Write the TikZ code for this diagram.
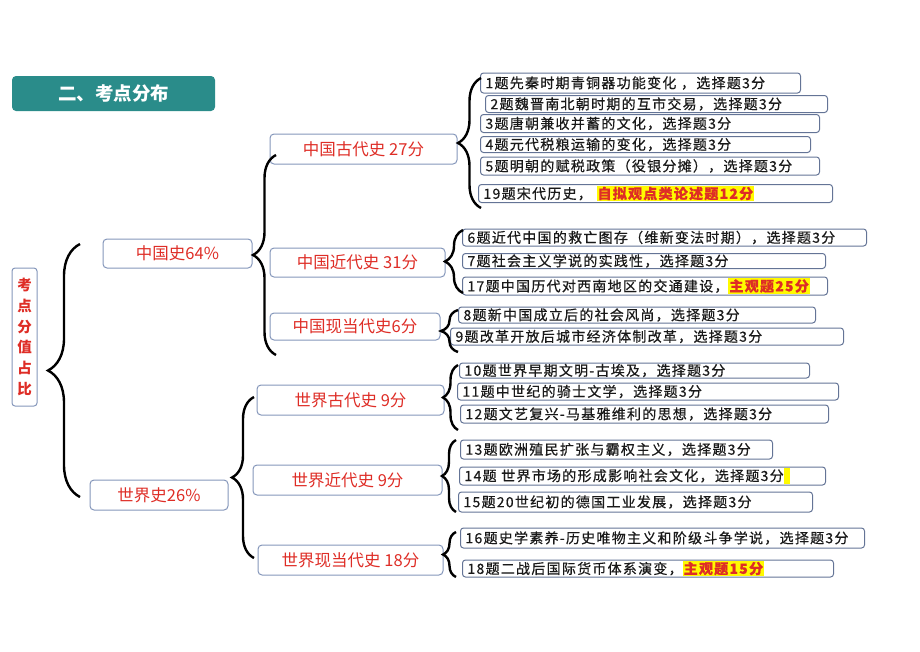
\documentclass[tikz,border=0pt]{standalone}
\usepackage{fontspec}
\usepackage{tikz}
\usepackage{xcolor}
\usetikzlibrary{decorations.pathreplacing}
\newfontfamily\cjk{Noto Sans CJK SC}
\newfontfamily\cjkq{Noto Sans CJK SC}[LetterSpace=9,FakeBold=0.6]
\definecolor{boxc}{RGB}{100,116,150}
\definecolor{catc}{RGB}{132,150,186}
\definecolor{titc}{RGB}{42,140,138}
\definecolor{redc}{RGB}{222,45,38}
\definecolor{hly}{RGB}{255,250,0}
\newcommand\hlt[1]{{\setlength\fboxsep{1pt}\colorbox{hly}{\textcolor{redc}{\bfseries #1}}}}

\begin{document}
\begin{tikzpicture}[x=1pt,y=-1pt,
	brc/.style={decorate,decoration={brace,amplitude=#1},line width=2.4pt},
	leaf/.style={draw=boxc,line width=1pt,rounded corners=3pt,anchor=west,align=left,inner xsep=5pt,inner ysep=0pt,font=\cjkq\fontsize{14}{15}\selectfont,text=black!90},
	cat/.style={draw=catc,line width=1pt,rounded corners=4pt,inner sep=0pt,font=\cjk\fontsize{16.5}{18}\selectfont,text=redc}]
	\useasboundingbox (0,0) rectangle (920,651);
	\node[fill=titc,rounded corners=4pt,minimum width=203,minimum height=35,text=white,font=\cjk\bfseries\fontsize{18.5}{20}\selectfont] (title) at (113.5,93.5) {二、考点分布};
	\node[cat,minimum width=25,minimum height=138,align=center,rounded corners=3pt,font=\cjk\bfseries\fontsize{14.5}{20.7}\selectfont] (lbl) at (24.5,337) {考\\点\\分\\值\\占\\比};

	\node[cat,minimum width=149,minimum height=29] (cn) at (177.5,253.5) {中国史64\%};
	\node[cat,minimum width=138,minimum height=30] (ws) at (159,495) {世界史26\%};

	\node[cat,minimum width=187,minimum height=30] (c1) at (363.5,149) {中国古代史 27分};
	\node[cat,minimum width=175,minimum height=29] (c2) at (357.5,262.5) {中国近代史 31分};
	\node[cat,minimum width=170,minimum height=27] (c3) at (355,326.5) {中国现当代史6分};
	\node[cat,minimum width=187,minimum height=30] (w1) at (350.5,400) {世界古代史 9分};
	\node[cat,minimum width=189,minimum height=30] (w2) at (347.5,480) {世界近代史 9分};
	\node[cat,minimum width=185,minimum height=30] (w3) at (350.5,560) {世界现当代史 18分};

	\node[leaf,text width=310pt,minimum height=20] (q1) at (480,83) {1题先秦时期青铜器功能变化 ，选择题3分};
	\node[leaf,text width=332pt,minimum height=17] (q2) at (485,104) {2题魏晋南北朝时期的互市交易，选择题3分};
	\node[leaf,text width=329pt,minimum height=18] (q3) at (480,123.5) {3题唐朝兼收并蓄的文化，选择题3分};
	\node[leaf,text width=320pt,minimum height=16] (q4) at (480,144.5) {4题元代税粮运输的变化，选择题3分};
	\node[leaf,text width=329pt,minimum height=18] (q5) at (480,166) {5题明朝的赋税政策（役银分摊），选择题3分};
	\node[leaf,text width=344pt,minimum height=18] (q19) at (478,193.5) {19题宋代历史， \hlt{自拟观点类论述题12分}};

	\node[leaf,text width=394pt,minimum height=17] (q6) at (462,237.5) {6题近代中国的救亡图存（维新变法时期），选择题3分};
	\node[leaf,text width=353pt,minimum height=15] (q7) at (462,261) {7题社会主义学说的实践性，选择题3分};
	\node[leaf,text width=355pt,minimum height=18] (q17) at (462,286) {17题中国历代对西南地区的交通建设，\hlt{主观题25分}};

	\node[leaf,text width=347pt,minimum height=16] (q8) at (458,315) {8题新中国成立后的社会风尚，选择题3分};
	\node[leaf,text width=383pt,minimum height=17] (q9) at (450,336.5) {9题改革开放后城市经济体制改革，选择题3分};

	\node[leaf,text width=340pt,minimum height=15] (q10) at (459,370.5) {10题世界早期文明-古埃及，选择题3分};
	\node[leaf,text width=371pt,minimum height=17] (q11) at (457,391.5) {11题中世纪的骑士文学，选择题3分};
	\node[leaf,text width=358pt,minimum height=18] (q12) at (460,414) {12题文艺复兴-马基雅维利的思想，选择题3分};

	\node[leaf,text width=302pt,minimum height=19] (q13) at (460,449.5) {13题欧洲殖民扩张与霸权主义，选择题3分};
	\node[leaf,text width=356pt,minimum height=18] (q14) at (459,476) {14题 世界市场的形成影响社会文化，选择题3分\textcolor{hly}{\rule[-3pt]{6pt}{16pt}}};
	\node[leaf,text width=344pt,minimum height=20] (q15) at (458,502) {15题20世纪初的德国工业发展，选择题3分};

	\node[leaf,text width=394pt,minimum height=20] (q16) at (460,538) {16题史学素养-历史唯物主义和阶级斗争学说，选择题3分};
	\node[leaf,text width=361pt,minimum height=17] (q18) at (462,568.5) {18题二战后国际货币体系演变，\hlt{主观题15分}};

	\draw[brc=32] (80,497) -- (80,244);
	\draw[brc=23] (276,355) -- (276,155);
	\draw[brc=22] (254,558) -- (254,397);
	\draw[brc=23] (481,208) -- (481,78);
	\draw[brc=18] (463,293) -- (463,230);
	\draw[brc=17] (458,352) -- (458,310);
	\draw[brc=15] (458,430) -- (458,365);
	\draw[brc=14] (456,512) -- (456,440);
	\draw[brc=13] (456,577) -- (456,532);
\end{tikzpicture}
\end{document}
